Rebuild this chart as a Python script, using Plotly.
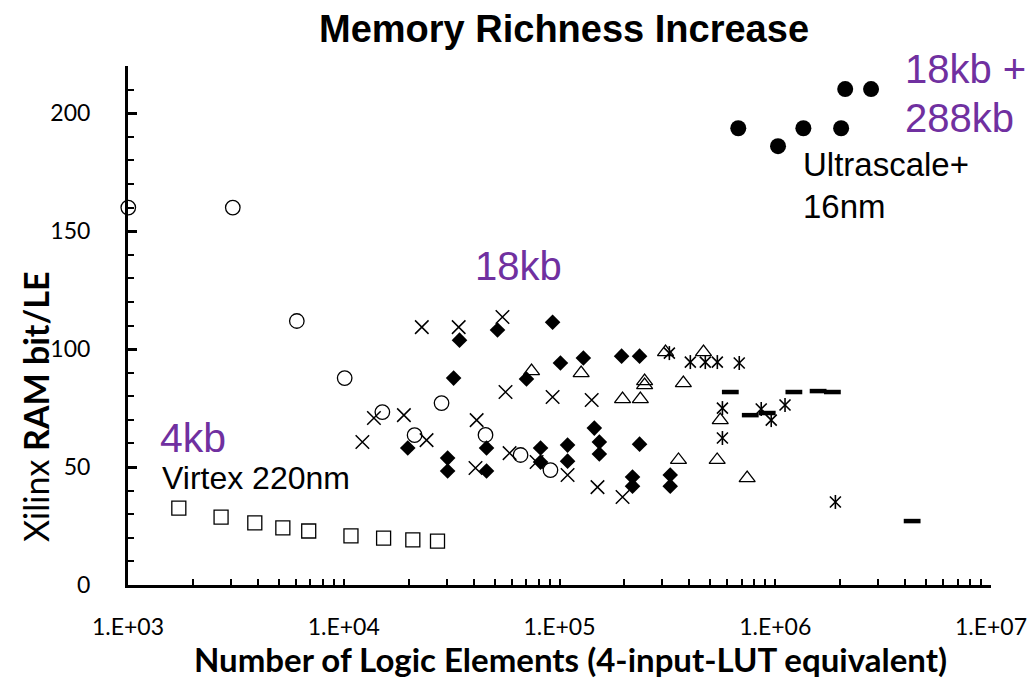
import plotly.graph_objects as go

# ---------------- data ----------------
virtex_x = [1.72e3, 2.70e3, 3.87e3, 5.22e3, 6.88e3, 1.08e4, 1.53e4, 2.09e4, 2.72e4]
virtex_y = [32.6, 28.8, 26.3, 24.2, 22.9, 20.8, 19.9, 19.1, 18.6]

ocirc_x = [1.003e3, 3.06e3, 6.06e3, 1.01e4, 1.51e4, 2.13e4, 2.84e4, 4.54e4, 6.6e4, 9.08e4]
ocirc_y = [160, 160, 111.9, 87.7, 73.3, 63.5, 77.1, 63.6, 55.1, 48.7]

diam_x = [1.98e4, 3.03e4, 3.03e4, 3.44e4, 3.23e4, 5.16e4, 4.59e4, 4.59e4, 7.03e4,
          9.29e4, 1.01e5, 8.17e4, 8.17e4, 1.09e5, 1.09e5, 1.29e5, 1.45e5, 1.53e5,
          1.53e5, 1.94e5, 2.35e5, 2.35e5, 2.18e5, 2.18e5, 3.26e5, 3.26e5]
diam_y = [58.1, 53.8, 48.3, 103.8, 87.7, 108.1, 58.1, 48.3, 87.3,
          111.4, 94.1, 58.1, 52.1, 59.3, 52.5, 96.2, 66.5, 60.6,
          55.5, 97.0, 97.0, 59.7, 45.8, 41.9, 46.6, 41.9]

cross_x = [1.22e4, 1.38e4, 1.90e4, 2.30e4, 2.42e4, 3.41e4, 4.13e4, 4.08e4, 5.44e4,
           5.62e4, 5.87e4, 7.83e4, 9.29e4, 1.09e5, 1.41e5, 1.50e5, 1.96e5]
cross_y = [60.6, 70.8, 72.0, 109.3, 61.4, 109.3, 69.9, 49.6, 113.6,
           81.8, 55.9, 52.1, 79.7, 46.6, 78.4, 41.5, 37.3]

tri_x = [7.42e4, 1.26e5, 2.48e5, 2.48e5, 3.10e5, 4.65e5, 3.75e5, 1.96e5, 2.37e5,
         5.56e5, 3.56e5, 5.38e5, 7.41e5]
tri_y = [90.7, 89.8, 86.4, 84.7, 98.7, 98.7, 85.6, 78.8, 78.8,
         69.9, 53.0, 53.0, 45.3]

star_x = [3.23e5, 4.04e5, 4.74e5, 5.39e5, 6.81e5, 5.69e5, 5.69e5, 8.61e5, 9.58e5, 1.11e6, 1.90e6]
star_y = [98.3, 94.5, 94.5, 94.5, 94.1, 75.0, 62.3, 74.6, 69.9, 76.3, 35.2]

dash_x = [6.19e5, 7.66e5, 9.18e5, 1.22e6, 1.58e6, 1.84e6, 4.31e6]
dash_y = [81.8, 72.0, 72.9, 81.8, 82.2, 81.8, 27.1]

ultra_x = [6.74e5, 1.03e6, 1.35e6, 2.02e6, 2.11e6, 2.78e6]
ultra_y = [193.6, 186.0, 193.6, 193.6, 210.2, 210.2]

x_tickvals = [1e3, 1e4, 1e5, 1e6, 1e7]
x_ticktext = ["1.E+03", "1.E+04", "1.E+05", "1.E+06", "1.E+07"]
y_tickvals = [0, 50, 100, 150, 200]

# ---------------- layout geometry ----------------
W, H = 1029, 680
L, R, T, B = 128, 991, 66, 585


def px(xp):
    return (xp - L) / (R - L)


def py(yp):
    return (B - yp) / (B - T)


BLACK = "black"
PURPLE = "#7030A0"
TICKFONT = "Lato, 'Open Sans', sans-serif"
ARIAL = "'Liberation Sans', Arial, sans-serif"

fig = go.Figure()


def add(x, y, symbol, size, lw=1.3, color=BLACK):
    fig.add_trace(go.Scatter(
        x=x, y=y, mode="markers", cliponaxis=False, showlegend=False,
        marker=dict(symbol=symbol, size=size, color=color,
                    line=dict(color=BLACK, width=lw)),
    ))


add(virtex_x, virtex_y, "square-open", 14)
add(ocirc_x, ocirc_y, "circle-open", 14.5)
add(diam_x, diam_y, "diamond", 12, lw=0)
add(cross_x, cross_y, "x-thin-open", 13.5, lw=1.5)
add(tri_x, tri_y, "triangle-up-open", 14, lw=1.3)
add(star_x, star_y, "x-thin-open", 11, lw=1.6)
add(star_x, star_y, "line-ns-open", 10, lw=1.6)
add(dash_x, dash_y, "line-ew-open", 12, lw=4.5)
add(ultra_x, ultra_y, "circle", 16, lw=0)

minor_x = [m * 10 ** d for d in range(3, 7) for m in range(2, 10)]
minor_y = [v for v in range(10, 230, 10) if v % 50 != 0]

fig.update_xaxes(
    type="log", range=[3, 7], automargin=False,
    tickvals=x_tickvals, ticktext=x_ticktext,
    ticks="inside", ticklen=6, tickwidth=2, tickcolor=BLACK,
    minor=dict(tickvals=minor_x, ticks="inside", ticklen=6, tickwidth=2, tickcolor=BLACK),
    showline=True, linewidth=3, linecolor=BLACK,
    showgrid=False, zeroline=False,
    tickfont=dict(family=TICKFONT, size=23, color=BLACK),
    ticklabelstandoff=19,
)
fig.update_yaxes(
    range=[0, 220], automargin=False,
    tickvals=y_tickvals,
    ticks="inside", ticklen=9, tickwidth=2.5, tickcolor=BLACK,
    minor=dict(tickvals=minor_y, ticks="inside", ticklen=6, tickwidth=2, tickcolor=BLACK),
    showline=True, linewidth=3, linecolor=BLACK,
    showgrid=False, zeroline=False,
    tickfont=dict(family=TICKFONT, size=23, color=BLACK),
    ticklabelstandoff=30,
)

ann = []


def text(t, xp, yp, size, color=BLACK, family=ARIAL, xanchor="left", angle=0):
    ann.append(dict(text=t, x=px(xp), y=py(yp), xref="paper", yref="paper",
                    xanchor=xanchor, yanchor="middle", showarrow=False,
                    textangle=angle,
                    font=dict(family=family, size=size, color=color)))


text("<b>Memory Richness Increase</b>", 564, 29, 38, xanchor="center")
text("4kb", 158, 438, 41, PURPLE)
text("Virtex 220nm", 160, 478, 32)
text("18kb", 473, 266, 40, PURPLE)
text("18kb +", 903, 69, 40, PURPLE)
text("288kb", 903, 118, 40, PURPLE)
text("Ultrascale+", 801, 164, 33)
text("16nm", 801, 206, 33)
text("<b>Number of Logic Elements (4-input-LUT equivalent)</b>", 570, 659, 33,
     family=TICKFONT, xanchor="center")
text("Xilinx <b>RAM bit/LE</b>", 35, 407, 34, family=TICKFONT, xanchor="center", angle=-90)

fig.update_layout(
    width=W, height=H,
    margin=dict(l=L, r=W - R, t=T, b=H - B, autoexpand=False),
    plot_bgcolor="white", paper_bgcolor="white",
    annotations=ann,
    showlegend=False,
)

fig.write_html("out.html")
